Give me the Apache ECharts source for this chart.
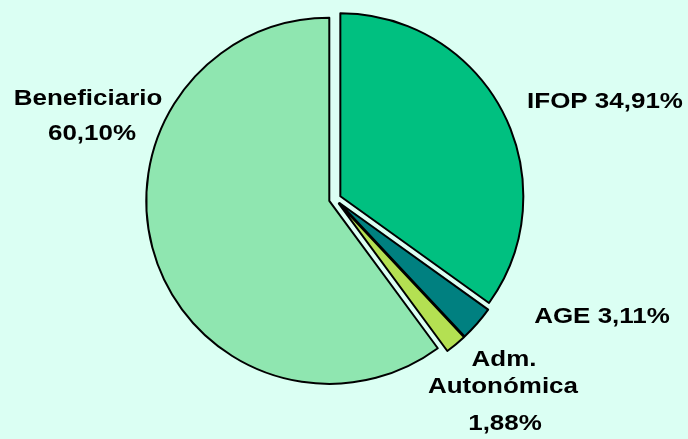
<!DOCTYPE html>
<html>
<head>
<meta charset="utf-8">
<script src="https://cdn.jsdelivr.net/npm/echarts@6/dist/echarts.min.js"></script>
<style>
html,body{margin:0;padding:0;background:#dbfff3;}
#chart{width:688px;height:439px;}
</style>
</head>
<body>
<div id="chart"></div>
<script>
var categories = ['IFOP', 'AGE', 'Adm. Autonómica', 'Beneficiario'];
var values = [34.91, 3.11, 1.88, 60.10];
var valueLabels = ['34,91%', '3,11%', '1,88%', '60,10%'];
var colors = ['#00c080', '#008080', '#b4e052', '#8fe6b0'];

// label lines per category (text), and where each line sits (px)
var labelLines = {
  'IFOP': function (v) { return ['IFOP ' + v]; },
  'AGE': function (v) { return ['AGE ' + v]; },
  'Adm. Autonómica': function (v) { return ['Adm.', 'Autonómica', v]; },
  'Beneficiario': function (v) { return ['Beneficiario', v]; }
};
var labelLinePos = {
  'IFOP': [[605, 102]],
  'AGE': [[602, 317]],
  'Adm. Autonómica': [[504, 360], [503, 387], [505, 424]],
  'Beneficiario': [[88, 99], [92, 134]]
};

var graphics = [];
categories.forEach(function (c, i) {
  var lines = labelLines[c](valueLabels[i]);
  lines.forEach(function (t, k) {
    var p = labelLinePos[c][k];
    graphics.push({
      type: 'text', x: p[0], y: p[1], z: 10,
      scaleX: 1.18,
      style: {
        text: t,
        fill: '#000',
        font: 'bold 22px "Liberation Sans", Arial, sans-serif',
        textAlign: 'center',
        textVerticalAlign: 'middle'
      }
    });
  });
});

var chart = echarts.init(document.getElementById('chart'));
chart.setOption({
  backgroundColor: '#dbfff3',
  animation: false,
  graphic: graphics,
  series: [{
    type: 'pie',
    center: [335, 199],
    radius: [0, 183],
    startAngle: 90,
    clockwise: true,
    selectedMode: 'multiple',
    selectedOffset: 6,
    emphasis: {disabled: true},
    itemStyle: {borderColor: '#000', borderWidth: 2},
    label: {show: false},
    labelLine: {show: false},
    data: categories.map(function (c, i) {
      return {name: c, value: values[i], selected: true, itemStyle: {color: colors[i]}};
    })
  }]
});
</script>
</body>
</html>
